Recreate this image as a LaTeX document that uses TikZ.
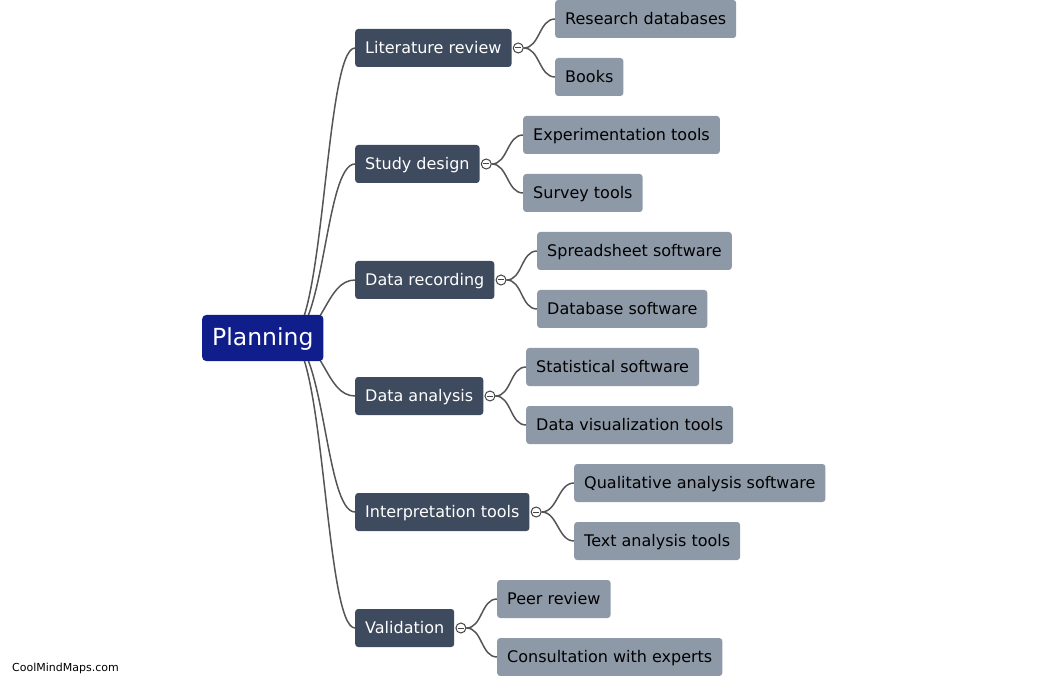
\documentclass[tikz,border=0pt]{standalone}
\usepackage{fontspec}
\setmainfont{DejaVu Sans}
\usetikzlibrary{backgrounds}
\definecolor{rootblue}{HTML}{0F1E8A}
\definecolor{lonecol}{HTML}{3E4A5D}
\definecolor{ltwocol}{HTML}{8E99A8}
\definecolor{linecol}{HTML}{555555}
\tikzset{
  rootnode/.style={fill=rootblue, text=white, rounded corners=4pt, font=\fontsize{23.5}{28}\selectfont, inner xsep=10pt, minimum height=46pt, anchor=west, text height=18.5pt, text depth=3.5pt},
  lone/.style={fill=lonecol, text=white, rounded corners=3pt, font=\fontsize{16}{19}\selectfont, inner xsep=10pt, minimum height=38pt, anchor=west, text height=14pt, text depth=2.5pt},
  ltwo/.style={fill=ltwocol, text=black, rounded corners=3pt, font=\fontsize{16}{19}\selectfont, inner xsep=10pt, minimum height=38pt, anchor=west, text height=14pt, text depth=2.5pt},
  toggle/.style={circle, draw=linecol!80!black, fill=white, minimum size=10pt, inner sep=0pt, line width=1pt, anchor=west, xshift=1pt,
    path picture={\draw[line width=1pt, draw=linecol!80!black] ([xshift=-3pt]path picture bounding box.center) -- ([xshift=3pt]path picture bounding box.center);}},
  conn/.style={draw=linecol, line width=1.5pt},
}
\begin{document}
\begin{tikzpicture}[x=1pt,y=1pt]
\useasboundingbox (0,0) rectangle (1039,-676);
% root
\node[rootnode] (root) at (202,-338) {Planning};
% level 1
\node[lone] (lit) at (355,-48) {Literature review};
\node[lone] (study) at (355,-164) {Study design};
\node[lone] (rec) at (355,-280) {Data recording};
\node[lone] (ana) at (355,-396) {Data analysis};
\node[lone] (interp) at (355,-512) {Interpretation tools};
\node[lone] (valid) at (355,-628) {Validation};
% toggles
\node[toggle] (tlit) at (lit.east) {};
\node[toggle] (tstudy) at (study.east) {};
\node[toggle] (trec) at (rec.east) {};
\node[toggle] (tana) at (ana.east) {};
\node[toggle] (tinterp) at (interp.east) {};
\node[toggle] (tvalid) at (valid.east) {};
% level 2
\node[ltwo] (resdb) at (555,-19) {Research databases};
\node[ltwo] (books) at (555,-77) {Books};
\node[ltwo] (exper) at (523,-135) {Experimentation tools};
\node[ltwo] (survey) at (523,-193) {Survey tools};
\node[ltwo] (sheet) at (537,-251) {Spreadsheet software};
\node[ltwo] (dbsoft) at (537,-309) {Database software};
\node[ltwo] (stat) at (526,-367) {Statistical software};
\node[ltwo] (visual) at (526,-425) {Data visualization tools};
\node[ltwo] (qual) at (574,-483) {Qualitative analysis software};
\node[ltwo] (text) at (574,-541) {Text analysis tools};
\node[ltwo] (peer) at (497,-599) {Peer review};
\node[ltwo] (consult) at (497,-657) {Consultation with experts};
% watermark
\node[anchor=west, font=\fontsize{11}{13}\selectfont, inner sep=0pt] (wm) at (12,-668) {CoolMindMaps.com};
\coordinate (rs) at ([xshift=-35pt]root.east);
\begin{scope}[on background layer]
  \foreach \c in {lit,study,rec,ana,interp,valid}
    \draw[conn] (rs) .. controls +(36,0) and +(-30,0) .. (\c.west);
  \foreach \t/\a/\b in {tlit/resdb/books, tstudy/exper/survey, trec/sheet/dbsoft, tana/stat/visual, tinterp/qual/text, tvalid/peer/consult} {
    \draw[conn] (\t.east) .. controls +(16,0) and +(-16,0) .. (\a.west);
    \draw[conn] (\t.east) .. controls +(16,0) and +(-16,0) .. (\b.west);
  }
\end{scope}
\end{tikzpicture}
\end{document}
